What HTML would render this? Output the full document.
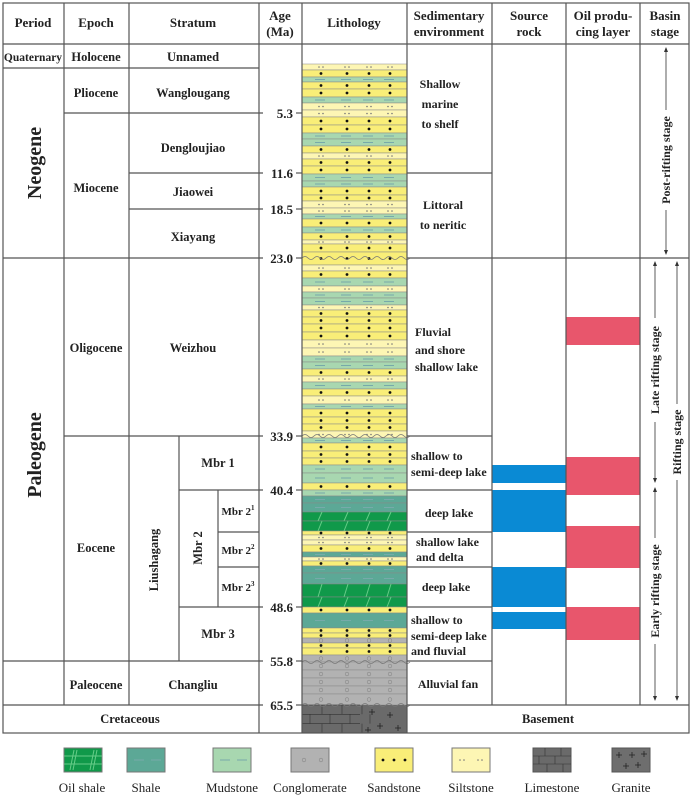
<!DOCTYPE html>
<html><head><meta charset="utf-8"><style>
html,body{margin:0;padding:0;background:#fff;}
svg{display:block;}
text{font-family:"Liberation Serif",serif;font-weight:bold;fill:#222;}
.lg text{font-weight:normal;}
</style></head><body>
<svg id="s" width="691" height="797" viewBox="0 0 691 797" xmlns="http://www.w3.org/2000/svg">
<g id="lith"></g>
<g fill="#0a8ad4">
<rect x="492" y="465" width="74" height="18"/>
<rect x="492" y="490" width="74" height="42"/>
<rect x="492" y="567" width="74" height="40"/>
<rect x="492" y="612" width="74" height="17"/>
</g>
<g fill="#e8566c">
<rect x="566" y="317" width="74" height="28"/>
<rect x="566" y="457" width="74" height="38"/>
<rect x="566" y="526" width="74" height="42"/>
<rect x="566" y="607" width="74" height="33"/>
</g>
<g stroke="#555" stroke-width="1.2" fill="none">
<rect x="3" y="3" width="686" height="730"/>
<line x1="3" y1="44" x2="689" y2="44"/>
<line x1="3" y1="68" x2="259" y2="68"/>
<line x1="64" y1="113" x2="263" y2="113"/>
<line x1="129" y1="173" x2="263" y2="173"/>
<line x1="129" y1="209" x2="263" y2="209"/>
<line x1="3" y1="258" x2="263" y2="258"/>
<line x1="64" y1="436" x2="263" y2="436"/>
<line x1="179" y1="490" x2="263" y2="490"/>
<line x1="218" y1="532" x2="259" y2="532"/>
<line x1="218" y1="567" x2="259" y2="567"/>
<line x1="179" y1="607" x2="263" y2="607"/>
<line x1="3" y1="661" x2="263" y2="661"/>
<line x1="3" y1="705" x2="263" y2="705"/>
<line x1="407" y1="173" x2="492" y2="173"/>
<line x1="407" y1="258" x2="689" y2="258"/>
<line x1="407" y1="436" x2="492" y2="436"/>
<line x1="407" y1="490" x2="492" y2="490"/>
<line x1="407" y1="532" x2="492" y2="532"/>
<line x1="407" y1="567" x2="492" y2="567"/>
<line x1="407" y1="607" x2="492" y2="607"/>
<line x1="407" y1="661" x2="492" y2="661"/>
<line x1="407" y1="705" x2="689" y2="705"/>
<line x1="64" y1="3" x2="64" y2="705"/>
<line x1="129" y1="3" x2="129" y2="705"/>
<line x1="179" y1="436" x2="179" y2="661"/>
<line x1="218" y1="490" x2="218" y2="607"/>
<line x1="259" y1="3" x2="259" y2="733"/>
<line x1="302" y1="3" x2="302" y2="733"/>
<line x1="407" y1="3" x2="407" y2="733"/>
<line x1="492" y1="3" x2="492" y2="705"/>
<line x1="566" y1="3" x2="566" y2="705"/>
<line x1="640" y1="3" x2="640" y2="705"/>
<line x1="296" y1="113" x2="302" y2="113"/><line x1="296" y1="173" x2="302" y2="173"/>
<line x1="296" y1="209" x2="302" y2="209"/><line x1="296" y1="258" x2="302" y2="258"/>
<line x1="296" y1="436" x2="302" y2="436"/><line x1="296" y1="490" x2="302" y2="490"/>
<line x1="296" y1="607" x2="302" y2="607"/><line x1="296" y1="661" x2="302" y2="661"/>
<line x1="296" y1="705" x2="302" y2="705"/>
</g>
<g font-size="13" text-anchor="middle">
<text x="33" y="27">Period</text><text x="96" y="27">Epoch</text><text x="193" y="27">Stratum</text>
<text x="280" y="20">Age</text><text x="280" y="36">(Ma)</text>
<text x="354" y="27">Lithology</text>
<text x="449" y="20">Sedimentary</text><text x="449" y="36">environment</text>
<text x="529" y="20">Source</text><text x="529" y="36">rock</text>
<text x="603" y="20">Oil produ-</text><text x="603" y="36">cing layer</text>
<text x="665" y="20">Basin</text><text x="665" y="36">stage</text>
</g>
<g font-size="12.5" text-anchor="middle">
<text x="33" y="61" font-size="11.5">Quaternary</text><text x="96" y="61">Holocene</text><text x="193" y="61">Unnamed</text>
<text x="96" y="97">Pliocene</text><text x="193" y="97">Wanglougang</text>
<text x="96" y="192">Miocene</text><text x="193" y="152">Dengloujiao</text>
<text x="193" y="196">Jiaowei</text><text x="193" y="241">Xiayang</text>
<text x="96" y="352">Oligocene</text><text x="193" y="352">Weizhou</text>
<text x="96" y="552">Eocene</text>
<text x="218" y="467">Mbr 1</text><text x="218" y="638">Mbr 3</text>
<text x="238" y="515" font-size="11">Mbr 2<tspan font-size="7" dy="-5">1</tspan></text>
<text x="238" y="554" font-size="11">Mbr 2<tspan font-size="7" dy="-5">2</tspan></text>
<text x="238" y="591" font-size="11">Mbr 2<tspan font-size="7" dy="-5">3</tspan></text>
<text x="96" y="689">Paleocene</text><text x="193" y="689">Changliu</text>
<text x="130" y="723">Cretaceous</text>
<text x="548" y="723">Basement</text>
<text transform="translate(158,560) rotate(-90)">Liushagang</text>
<text transform="translate(202,548) rotate(-90)">Mbr 2</text>
</g>
<g font-size="20" text-anchor="middle">
<text transform="translate(41,163) rotate(-90)">Neogene</text>
<text transform="translate(41,455) rotate(-90)">Paleogene</text>
</g>
<g font-size="13" text-anchor="end">
<text x="293" y="118">5.3</text><text x="293" y="178">11.6</text><text x="293" y="214">18.5</text>
<text x="293" y="263">23.0</text><text x="293" y="441">33.9</text><text x="293" y="495">40.4</text>
<text x="293" y="612">48.6</text><text x="293" y="666">55.8</text><text x="293" y="710">65.5</text>
</g>
<g font-size="12">
<text x="440" y="88" text-anchor="middle">Shallow</text><text x="440" y="108" text-anchor="middle">marine</text><text x="440" y="128" text-anchor="middle">to shelf</text>
<text x="443" y="209" text-anchor="middle">Littoral</text><text x="443" y="229" text-anchor="middle">to neritic</text>
<text x="415" y="336">Fluvial</text><text x="415" y="354">and shore</text><text x="415" y="371">shallow lake</text>
<text x="411" y="460">shallow to</text><text x="411" y="476">semi-deep lake</text>
<text x="449" y="517" text-anchor="middle">deep lake</text>
<text x="416" y="546">shallow lake</text><text x="416" y="561">and delta</text>
<text x="446" y="591" text-anchor="middle">deep lake</text>
<text x="411" y="624">shallow to</text><text x="411" y="640">semi-deep lake</text><text x="411" y="655">and fluvial</text>
<text x="448" y="688" text-anchor="middle">Alluvial fan</text>
</g>
<g stroke="#333" stroke-width="0.8">
<line x1="666" y1="48" x2="666" y2="254"/>
<line x1="655" y1="262" x2="655" y2="482"/>
<line x1="655" y1="488" x2="655" y2="700"/>
<line x1="677" y1="262" x2="677" y2="700"/>
</g>
<g fill="#333">
<path d="M666 47l-2 5h4z"/><path d="M666 255l-2-5h4z"/>
<path d="M655 261l-2 5h4z"/><path d="M655 483l-2-5h4z"/>
<path d="M655 487l-2 5h4z"/><path d="M655 701l-2-5h4z"/>
<path d="M677 261l-2 5h4z"/><path d="M677 701l-2-5h4z"/>
</g>
<g font-size="12" text-anchor="middle">
<rect x="659" y="110" width="14" height="100" fill="#fff"/>
<text transform="translate(670,160) rotate(-90)">Post-rifting stage</text>
<rect x="648" y="318" width="14" height="104" fill="#fff"/>
<text transform="translate(659,370) rotate(-90)">Late rifting stage</text>
<rect x="648" y="538" width="14" height="106" fill="#fff"/>
<text transform="translate(659,591) rotate(-90)">Early rifting stage</text>
<rect x="670" y="404" width="14" height="76" fill="#fff"/>
<text transform="translate(681,442) rotate(-90)">Rifting stage</text>
</g>
<g id="leg"></g>
<g class="lg" font-size="13" text-anchor="middle">
<text x="82" y="792">Oil shale</text>
<text x="146" y="792">Shale</text>
<text x="232" y="792">Mudstone</text>
<text x="310" y="792">Conglomerate</text>
<text x="394" y="792">Sandstone</text>
<text x="471" y="792">Siltstone</text>
<text x="552" y="792">Limestone</text>
<text x="631" y="792">Granite</text>
</g>
</svg>
<script>
var C={sa:"#f9ee78",si:"#fdf6b4",mu:"#a8d7b0",sh:"#5ca896",os:"#10994a",co:"#b2b2b2"};
var L=[[64,70,"si"],[70,77,"sa"],[77,82,"mu"],[82,89,"sa"],[89,97,"sa"],[97,103,"mu"],[103,110,"si"],[110,117,"si"],[117,125,"sa"],[125,133,"sa"],[133,139,"mu"],[139,146,"mu"],[146,153,"sa"],[153,159,"si"],[159,166,"sa"],[166,174,"sa"],[174,181,"mu"],[181,187,"mu"],[187,195,"sa"],[195,201,"sa"],[201,208,"si"],[208,214,"si"],[214,219,"mu"],[219,227,"sa"],[227,233,"mu"],[233,240,"sa"],[240,244,"si"],[244,252,"sa"],[252,265,"sa"],[265,271,"si"],[271,278,"sa"],[278,286,"mu"],[286,292,"si"],[292,298,"mu"],[298,305,"mu"],[305,310,"si"],[310,317,"sa"],[317,324,"sa"],[324,332,"sa"],[332,340,"sa"],[340,348,"si"],[348,356,"si"],[356,362,"mu"],[362,369,"mu"],[369,376,"sa"],[376,382,"si"],[382,389,"mu"],[389,396,"sa"],[396,404,"si"],[404,409,"mu"],[409,417,"sa"],[417,424,"sa"],[424,431,"sa"],[431,438,"si"],[438,443,"mu"],[443,451,"sa"],[451,458,"sa"],[458,465,"sa"],[465,473,"mu"],[473,483,"mu"],[483,490,"sa"],[490,496,"mu"],[496,503,"sh"],[503,512,"sh"],[512,521,"os"],[521,531,"os"],[531,535,"sa"],[535,540,"si"],[540,545,"si"],[545,552,"sa"],[552,557,"sh"],[557,561,"si"],[561,566,"sa"],[566,573,"sh"],[573,584,"sh"],[584,597,"os"],[597,607,"os"],[607,613,"sa"],[613,628,"sh"],[628,633,"sa"],[633,638,"sa"],[638,643,"co"],[643,648,"sa"],[648,655,"sa"],[655,662,"co"],[662,670,"co"],[670,678,"co"],[678,686,"co"],[686,694,"co"],[694,705,"co"]];
var xs=[321,347,369,390],h="";
function pat(t,x,y,w,hh,xs2){var s="",cy=y+hh/2;
 xs2.forEach(function(px){
  if(t=="sa")s+='<circle cx="'+px+'" cy="'+cy+'" r="1.4" fill="#111"/>';
  else if(t=="si")s+='<circle cx="'+(px-2)+'" cy="'+cy+'" r="0.8" fill="#777"/><circle cx="'+(px+2)+'" cy="'+cy+'" r="0.8" fill="#777"/>';
  else if(t=="mu"||t=="sh")s+='<line x1="'+(px-6)+'" y1="'+cy+'" x2="'+(px+4)+'" y2="'+cy+'" stroke="#7aa"/>';
  else if(t=="os")s+='<line x1="'+(px-3)+'" y1="'+(y+hh)+'" x2="'+(px+1)+'" y2="'+y+'" stroke="#6c8"/>';
  else if(t=="co")s+='<circle cx="'+px+'" cy="'+cy+'" r="1.8" fill="none" stroke="#888" stroke-width="0.6"/>';
 });return s;}
L.forEach(function(l){var y=l[0],hh=l[1]-l[0];
 h+='<rect x="302" y="'+y+'" width="105" height="'+hh+'" fill="'+C[l[2]]+'" stroke="#888" stroke-width="0.5"/>';
 h+=pat(l[2],302,y,105,hh,xs);});
h+='<rect x="302" y="705" width="105" height="28" fill="#6a6a6a"/>';
for(var r=0;r<3;r++){var yy=705+r*9.3;h+='<line x1="302" y1="'+yy+'" x2="360" y2="'+yy+'" stroke="#333" stroke-width="0.6"/>';
 for(var k=0;k<4;k++){var xx=302+(r%2?8:0)+k*20;h+='<line x1="'+xx+'" y1="'+yy+'" x2="'+xx+'" y2="'+(yy+9.3)+'" stroke="#333" stroke-width="0.6"/>';}}
[[372,712],[390,715],[380,726],[398,728],[368,730]].forEach(function(p){h+='<path d="M'+(p[0]-3)+' '+p[1]+'h6M'+p[0]+' '+(p[1]-3)+'v6" stroke="#222" stroke-width="0.8"/>';});
[258,436,662,705].forEach(function(y){var d="M302 "+y;for(var x=302;x<407;x+=12)d+=" q3 -3 6 0 q3 3 6 0";h+='<path d="'+d+'" fill="none" stroke="#777" stroke-width="0.8"/>';});
document.getElementById("lith").innerHTML=h;
var G=[["os",64],["sh",127],["mu",213],["co",291],["sa",375],["si",452],["ls",533],["gr",612]],g="";
G.forEach(function(a){var x=a[1],y=748,w=38,hh=24;
 if(a[0]=="ls"){g+='<rect x="'+x+'" y="'+y+'" width="'+w+'" height="'+hh+'" fill="#6a6a6a" stroke="#555"/>';
  for(var r=1;r<3;r++)g+='<line x1="'+x+'" y1="'+(y+r*8)+'" x2="'+(x+w)+'" y2="'+(y+r*8)+'" stroke="#333" stroke-width="0.6"/>';
  [[12,0],[28,0],[6,8],[22,8],[14,16],[30,16]].forEach(function(p){g+='<line x1="'+(x+p[0])+'" y1="'+(y+p[1])+'" x2="'+(x+p[0])+'" y2="'+(y+p[1]+8)+'" stroke="#333" stroke-width="0.6"/>';});}
 else if(a[0]=="gr"){g+='<rect x="'+x+'" y="'+y+'" width="'+w+'" height="'+hh+'" fill="#6e6e6e" stroke="#555"/>';
  [[7,7],[20,7],[32,6],[14,18],[26,17]].forEach(function(p){g+='<path d="M'+(x+p[0]-3)+' '+(y+p[1])+'h6M'+(x+p[0])+' '+(y+p[1]-3)+'v6" stroke="#222" stroke-width="0.8"/>';});}
 else {g+='<rect x="'+x+'" y="'+y+'" width="'+w+'" height="'+hh+'" fill="'+C[a[0]]+'" stroke="#777"/>';
  if(a[0]=="os"){g+='<line x1="'+x+'" y1="'+(y+8)+'" x2="'+(x+w)+'" y2="'+(y+8)+'" stroke="#6c8"/><line x1="'+x+'" y1="'+(y+16)+'" x2="'+(x+w)+'" y2="'+(y+16)+'" stroke="#6c8"/>';
   [9,29].forEach(function(o){g+='<line x1="'+(x+o-3)+'" y1="'+(y+22)+'" x2="'+(x+o+1)+'" y2="'+(y+2)+'" stroke="#6c8"/><line x1="'+(x+o)+'" y1="'+(y+22)+'" x2="'+(x+o+4)+'" y2="'+(y+2)+'" stroke="#6c8"/>';});}
  else g+=pat(a[0],x,y,w,hh,a[0]=="sa"?[x+8,x+19,x+30]:a[0]=="si"?[x+10,x+28]:[x+13,x+30]);}
});
document.getElementById("leg").innerHTML=g;
</script>
</body></html>
